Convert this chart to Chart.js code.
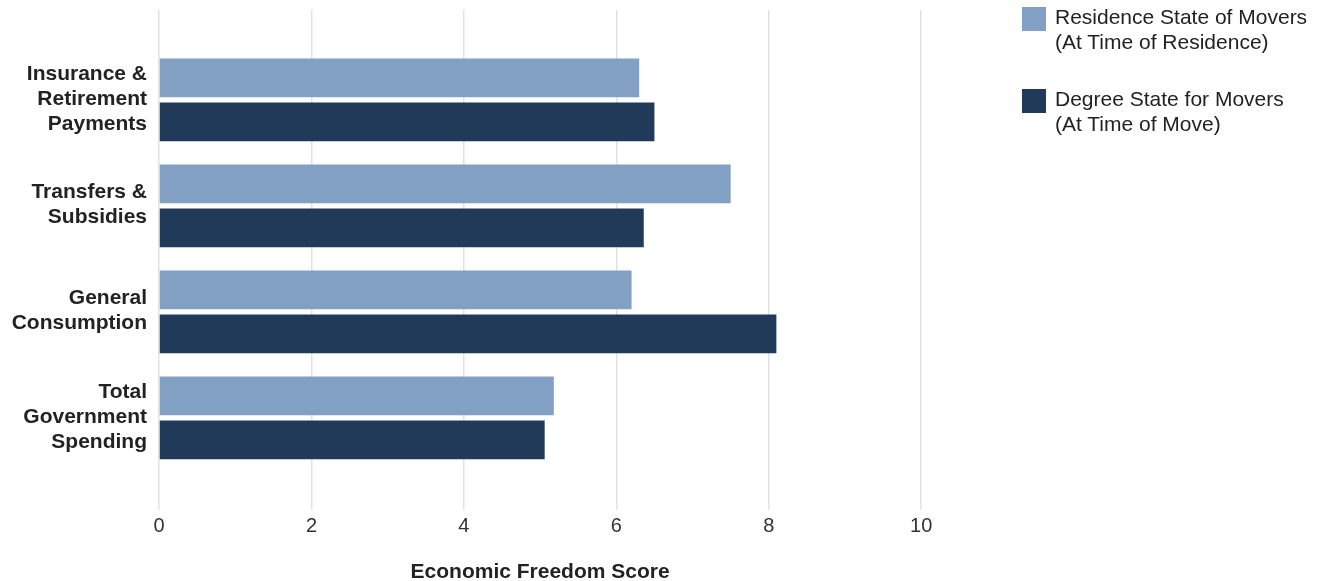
<!DOCTYPE html>
<html lang="en">
<head>
  <meta charset="UTF-8" />
  <title>Economic Freedom Score by Spending Component</title>
  <script src="https://cdn.jsdelivr.net/npm/chart.js"></script>
  <style>
    body {
      margin: 0;
      background: #ffffff;
      font-family: 'Liberation Sans', Arial, Helvetica, sans-serif;
    }
    #wrap {
      position: relative;
      width: 1327px;
      height: 581px;
    }
    .legend-item {
      position: absolute;
      left: 1022px;
    }
    .legend-item .swatch {
      position: absolute;
      left: 0;
      width: 23.5px;
      height: 23.5px;
    }
    .legend-item .text {
      position: absolute;
      left: 33px;
      font-size: 21px;
      line-height: 25px;
      color: #222;
      white-space: nowrap;
    }
  </style>
</head>
<body>
  <div id="wrap">
    <canvas id="freedomChart" width="1327" height="581"></canvas>
    <div id="legend"></div>
  </div>

  <script>
    const categories = [
      ['Insurance &', 'Retirement', 'Payments'],
      ['Transfers &', 'Subsidies'],
      ['General', 'Consumption'],
      ['Total', 'Government', 'Spending']
    ];
    const residenceScores = [6.3, 7.5, 6.2, 5.18];
    const degreeScores = [6.5, 6.36, 8.1, 5.06];
    const seriesNames = [
      ['Residence State of Movers', '(At Time of Residence)'],
      ['Degree State for Movers', '(At Time of Move)']
    ];
    const xTicks = [0, 2, 4, 6, 8, 10];

    const colors = ['#829fc4', '#223a5a'];
    const textColor = '#222';
    const gridColor = '#e2e2e2';

    Chart.defaults.font.family = "'Liberation Sans', Arial, Helvetica, sans-serif";
    Chart.defaults.color = textColor;

    // legend on the right, two-line labels
    const legendTops = [{ swatch: 7.3, text: 4 }, { swatch: 89, text: 86 }];
    const legendEl = document.getElementById('legend');
    seriesNames.forEach((name, i) => {
      const item = document.createElement('div');
      item.className = 'legend-item';
      item.style.top = '0px';
      const sw = document.createElement('div');
      sw.className = 'swatch';
      sw.style.background = colors[i];
      sw.style.top = legendTops[i].swatch + 'px';
      const txt = document.createElement('div');
      txt.className = 'text';
      txt.style.top = legendTops[i].text + 'px';
      txt.innerHTML = name.join('<br>');
      item.appendChild(sw);
      item.appendChild(txt);
      legendEl.appendChild(item);
    });

    const tickOpts = {
      min: xTicks[0],
      max: xTicks[xTicks.length - 1],
      afterBuildTicks: axis => { axis.ticks = xTicks.map(v => ({ value: v })); }
    };

    new Chart(document.getElementById('freedomChart'), {
      type: 'bar',
      data: {
        labels: categories,
        datasets: [
          {
            label: seriesNames[0].join(' '),
            data: residenceScores,
            backgroundColor: colors[0],
            barPercentage: 0.88,
            categoryPercentage: 0.831
          },
          {
            label: seriesNames[1].join(' '),
            data: degreeScores,
            backgroundColor: colors[1],
            barPercentage: 0.88,
            categoryPercentage: 0.831
          }
        ]
      },
      options: {
        indexAxis: 'y',
        responsive: false,
        animation: false,
        devicePixelRatio: 1,
        layout: { padding: { top: 10, right: 405.8, bottom: 0, left: 0 } },
        plugins: {
          legend: { display: false },
          tooltip: { enabled: false }
        },
        scales: {
          x: {
            type: 'linear',
            position: 'bottom',
            min: tickOpts.min,
            max: tickOpts.max,
            afterBuildTicks: tickOpts.afterBuildTicks,
            border: { display: false },
            grid: { color: gridColor, lineWidth: 1.5, tickLength: 39 },
            ticks: { color: '#333', padding: 5, font: { size: 20, lineHeight: 1.2 } },
            title: {
              display: true,
              text: 'Economic Freedom Score',
              color: textColor,
              font: { size: 21, weight: 'bold', lineHeight: 0.85 },
              padding: { top: 19.3, bottom: 0 }
            }
          },
          // top axis only extends the grid lines above the bars
          xTop: {
            type: 'linear',
            position: 'top',
            min: tickOpts.min,
            max: tickOpts.max,
            afterBuildTicks: tickOpts.afterBuildTicks,
            border: { display: false },
            grid: { color: gridColor, lineWidth: 1.5, tickLength: 37, drawOnChartArea: false },
            ticks: { display: false }
          },
          y: {
            border: { display: false },
            grid: { display: false, drawTicks: false },
            ticks: {
              color: textColor,
              padding: 12,
              labelOffset: -1,
              font: { size: 21, weight: 'bold', lineHeight: 1.19 }
            },
            afterFit: axis => {
              axis.width = 159;
              // tall multi-line labels should not push the plot area down
              axis.paddingTop = 0;
              axis.paddingBottom = 0;
            }
          }
        }
      }
    });
  </script>
</body>
</html>
